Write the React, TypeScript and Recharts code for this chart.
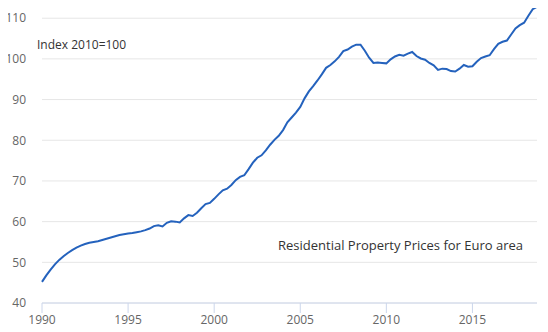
import { LineChart, Line, XAxis, YAxis, CartesianGrid } from 'recharts';

const YEARS = [
    1990, 1991, 1992, 1993, 1994, 1995, 1996, 1997, 1998, 1999,
    2000, 2001, 2002, 2003, 2004, 2005, 2006, 2007, 2008, 2009,
    2010, 2011, 2012, 2013, 2014, 2015, 2016, 2017, 2018,
];

// quarterly index values (Q1..Q4) for each year above
const PRICES = [
    45.2, 46.8, 48.2, 49.5,
    50.6, 51.5, 52.3, 53.0,
    53.6, 54.1, 54.5, 54.8,
    55.0, 55.2, 55.5, 55.8,
    56.1, 56.4, 56.7, 56.9,
    57.1, 57.2, 57.4, 57.6,
    57.9, 58.3, 58.9, 59.1,
    58.8, 59.7, 60.1, 60.0,
    59.8, 60.8, 61.6, 61.4,
    62.2, 63.3, 64.3, 64.6,
    65.6, 66.7, 67.7, 68.1,
    69.0, 70.2, 71.0, 71.4,
    72.9, 74.5, 75.7, 76.3,
    77.5, 78.9, 80.1, 81.1,
    82.5, 84.4, 85.6, 86.8,
    88.2, 90.3, 92.0, 93.3,
    94.7, 96.2, 97.8, 98.5,
    99.4, 100.5, 101.9, 102.3,
    103.0, 103.5, 103.5, 102.0,
    100.3, 99.0, 99.1, 99.0,
    98.9, 99.9, 100.6, 101.0,
    100.8, 101.3, 101.7, 100.7,
    100.1, 99.8, 99.0, 98.4,
    97.3, 97.6, 97.5, 97.0,
    96.9, 97.6, 98.5, 98.1,
    98.2, 99.3, 100.2, 100.6,
    100.9, 102.4, 103.7, 104.2,
    104.5, 106.0, 107.5, 108.3,
    108.9, 110.6, 112.2, 112.8,
];

const X_TICKS = [1990, 1995, 2000, 2005, 2010, 2015];
const Y_TICKS = [40, 50, 60, 70, 80, 90, 100, 110];

const UNIT_LABEL = 'Index 2010=100';
const SERIES_LABEL = 'Residential Property Prices for Euro area';

const FONT = '"Open Sans", sans-serif';

const data = PRICES.map((v, i) => ({
    t: YEARS[Math.floor(i / 4)] + (i % 4) / 4,
    value: v,
}));

export default function App() {
    return (
        <div style={{ position: 'relative', width: 548, height: 332, margin: -8, fontFamily: FONT, background: '#fff' }}>
            <LineChart width={548} height={332} data={data} margin={{ top: 6, right: 11, bottom: 0, left: 0 }}>
                <CartesianGrid vertical={false} stroke="#e6e6e6" />
                <XAxis
                    dataKey="t"
                    type="number"
                    domain={[1990, 2018.75]}
                    ticks={X_TICKS}
                    height={29}
                    stroke="#ccd6eb"
                    tickSize={10}
                    tickMargin={2}
                    tick={{ fill: '#666', fontSize: 12, fontFamily: FONT }}
                />
                <YAxis
                    type="number"
                    domain={[40, 113]}
                    ticks={Y_TICKS}
                    width={42}
                    axisLine={false}
                    tickLine={false}
                    tickMargin={10}
                    tick={{ fill: '#666', fontSize: 12, fontFamily: FONT }}
                />
                <Line
                    dataKey="value"
                    type="linear"
                    stroke="#2462bd"
                    strokeWidth={2}
                    dot={false}
                    isAnimationActive={false}
                />
            </LineChart>
            <svg width={548} height={332} style={{ position: 'absolute', left: 0, top: 0, pointerEvents: 'none' }}>
                <text x={37} y={49} fontSize={12} fill="#333" fontFamily={FONT}>{UNIT_LABEL}</text>
                <text x={278} y={250} fontSize={13} fill="#333" fontFamily={FONT}>{SERIES_LABEL}</text>
            </svg>
        </div>
    );
}
